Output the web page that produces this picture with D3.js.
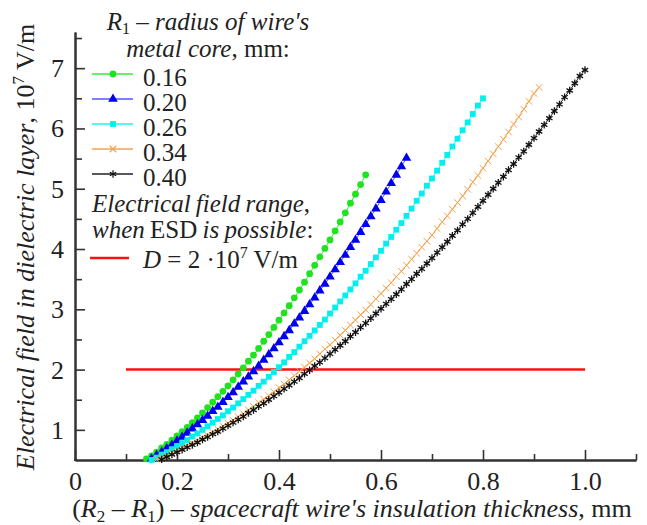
<!DOCTYPE html>
<html>
<head>
<meta charset="utf-8">
<script src="https://cdn.jsdelivr.net/npm/d3@7"></script>
<style>
  body { margin: 0; background: #fff; }
  svg text { font-family: "Liberation Serif", "Tinos", "Times New Roman", "DejaVu Serif", serif; fill: #222; }
</style>
</head>
<body>
<svg width="647" height="525"></svg>
<script>
// R1 values (mm) and the field curves, sampled every 0.01 mm of insulation thickness
var radii = ["0.16", "0.20", "0.26", "0.34", "0.40"];
var xStart = [0.14, 0.15, 0.15, 0.16, 0.17];
var xStep = 0.01;

var field016 = [0.52,0.57,0.63,0.70,0.76,0.83,0.90,0.97,1.04,1.12,1.20,1.28,1.37,1.46,1.55,1.64,1.73,1.83,1.93,2.03,
  2.14,2.24,2.35,2.47,2.58,2.70,2.82,2.94,3.06,3.19,3.32,3.45,3.59,3.73,3.87,4.01,4.15,4.30,4.45,4.60,4.76,4.91,5.07,5.23];
var field020 = [0.52,0.58,0.63,0.69,0.75,0.82,0.88,0.95,1.02,1.09,1.16,1.23,1.31,1.38,1.46,1.54,1.62,1.71,1.80,1.88,
  1.97,2.06,2.16,2.25,2.35,2.45,2.55,2.65,2.76,2.86,2.97,3.08,3.19,3.31,3.42,3.54,3.66,3.78,3.90,4.03,
  4.15,4.28,4.41,4.54,4.67,4.81,4.95,5.09,5.23,5.37,5.51];
var field026 = [0.50,0.54,0.59,0.63,0.68,0.73,0.78,0.83,0.89,0.94,1.00,1.06,1.12,1.18,1.24,1.31,1.37,1.44,1.51,1.58,
  1.65,1.73,1.80,1.88,1.96,2.04,2.12,2.21,2.29,2.38,2.47,2.56,2.65,2.74,2.83,2.93,3.03,3.13,3.23,3.33,
  3.43,3.54,3.64,3.75,3.86,3.97,4.09,4.20,4.32,4.43,4.55,4.67,4.80,4.92,5.05,5.17,5.30,5.43,5.56,5.70,
  5.83,5.97,6.10,6.24,6.38,6.50];
var field034 = [0.51,0.55,0.58,0.62,0.66,0.70,0.74,0.78,0.82,0.87,0.91,0.96,1.01,1.06,1.11,1.16,1.22,1.27,1.33,1.39,
  1.45,1.51,1.57,1.63,1.70,1.76,1.83,1.90,1.97,2.04,2.11,2.18,2.26,2.34,2.41,2.49,2.57,2.65,2.74,2.82,
  2.91,2.99,3.08,3.17,3.26,3.35,3.44,3.54,3.63,3.73,3.83,3.93,4.03,4.13,4.23,4.34,4.45,4.55,4.66,4.77,
  4.88,4.99,5.11,5.22,5.34,5.46,5.58,5.70,5.82,5.94,6.07,6.19,6.32,6.45,6.58,6.68];
var field040 = [0.51,0.55,0.59,0.63,0.67,0.71,0.75,0.79,0.84,0.88,0.93,0.97,1.02,1.07,1.12,1.17,1.22,1.28,1.33,1.39,
  1.44,1.50,1.56,1.62,1.68,1.74,1.80,1.86,1.93,1.99,2.06,2.12,2.19,2.26,2.33,2.40,2.47,2.55,2.62,2.70,
  2.77,2.85,2.93,3.01,3.09,3.17,3.25,3.33,3.42,3.50,3.59,3.67,3.76,3.85,3.94,4.03,4.12,4.22,4.31,4.41,
  4.50,4.60,4.70,4.80,4.90,5.00,5.10,5.20,5.31,5.41,5.52,5.62,5.73,5.84,5.95,6.06,6.17,6.29,6.40,6.52,
  6.63,6.75,6.87,6.97];

var fields = [field016, field020, field026, field034, field040];
var colors = ["#1ee31e", "#0000ee", "#00f0f0", "#f7a24a", "#111111"];
var lineColors = ["#33ee33", "#5555ff", "#22f2f2", "#f7a24a", "#222222"];
var symbols = [d3.symbolCircle, d3.symbolTriangle, d3.symbolSquare, d3.symbolTimes, d3.symbolAsterisk];
var symSizes = [36, 40, 34, 30, 38];

// ESD threshold line D = 2*10^7 V/m
var esdLevel = 2;
var esdRange = [0.1, 1.0];

var xMajorTicks = [0, 0.2, 0.4, 0.6, 0.8, 1.0];
var xMinorTicks = [0.1, 0.3, 0.5, 0.7, 0.9, 1.1];
var yMajorTicks = [1, 2, 3, 4, 5, 6, 7];
var yMinorTicks = [1.5, 2.5, 3.5, 4.5, 5.5, 6.5, 7.5];

var FONT = "'Liberation Serif', Tinos, 'Times New Roman', 'DejaVu Serif', serif";
var FS = 26;   // axis text
var LS = 25;   // legend text
var svg = d3.select("svg");

var x = d3.scaleLinear().domain([0, 1.1]).range([75, 636]);
var y = d3.scaleLinear().domain([0.5, 7.6]).range([460, 32]);

// rich text helper: parts are [text, kind] with kind i / r / sub / sup
function rich(sel, parts, size, subShift) {
  var shift = 0, down = subShift || 5;
  sel.attr("font-family", FONT).attr("font-size", size);
  parts.forEach(function (p) {
    var t = sel.append("tspan").text(p[0]);
    var want = p[1] == "sub" ? down : (p[1] == "sup" ? -10 : 0);
    if (want != shift) { t.attr("dy", want - shift); shift = want; }
    if (p[1] == "i") t.attr("font-style", "italic");
    if (p[1] == "sub" || p[1] == "sup") t.attr("font-size", Math.round(size * 0.65));
  });
}

// ---- axes
var gx = svg.append("g").attr("transform", "translate(0," + y(0.5) + ")");
gx.call(d3.axisBottom(x).tickValues(xMinorTicks).tickSizeInner(-6).tickSizeOuter(0).tickFormat(""));
gx.append("g").call(d3.axisBottom(x).tickValues(xMajorTicks).tickSizeInner(-10).tickSizeOuter(0)
    .tickFormat(function (d) { return d == 1 ? "1.0" : d3.format("")(d); }))
  .selectAll(".tick text").attr("y", 30).attr("dy", 0);

var gy = svg.append("g").attr("transform", "translate(" + x(0) + ",0)");
gy.call(d3.axisLeft(y).tickValues(yMinorTicks).tickSizeInner(-7).tickSizeOuter(0).tickFormat(""));
gy.append("g").call(d3.axisLeft(y).tickValues(yMajorTicks).tickSizeInner(-10).tickSizeOuter(0)
    .tickFormat(d3.format("d")))
  .selectAll(".tick text").attr("x", -11).attr("dy", 8.5);

svg.selectAll("g").attr("font-family", null).attr("font-size", null);
svg.selectAll(".domain").attr("stroke", "#333").attr("stroke-width", 2);
svg.selectAll(".tick line").attr("stroke", "#333").attr("stroke-width", 1.6);
svg.selectAll(".tick text").attr("font-size", FS).attr("fill", "#222").attr("font-family", FONT);
// close the corner of the two axis lines
svg.append("line").attr("x1", x(0) - 1).attr("x2", x(0) + 2).attr("y1", y(0.5)).attr("y2", y(0.5))
  .attr("stroke", "#333").attr("stroke-width", 2);

// ---- threshold line
svg.append("line")
  .attr("x1", x(esdRange[0])).attr("x2", x(esdRange[1]))
  .attr("y1", y(esdLevel)).attr("y2", y(esdLevel))
  .attr("stroke", "#ff1010").attr("stroke-width", 2.5);

// ---- curves
var line = d3.line().x(function (d) { return x(d[0]); }).y(function (d) { return y(d[1]); });

fields.forEach(function (vals, k) {
  var pts = vals.map(function (v, i) { return [xStart[k] + i * xStep, v]; });
  var g = svg.append("g");
  g.append("path").datum(pts).attr("d", line)
    .attr("fill", "none").attr("stroke", lineColors[k]).attr("stroke-width", 1);
  var sym = d3.symbol().type(symbols[k]).size(symSizes[k]);
  g.selectAll("path.m").data(pts).enter().append("path").attr("class", "m")
    .attr("transform", function (d) { return "translate(" + x(d[0]) + "," + y(d[1]) + ")"; })
    .attr("d", sym)
    .attr("fill", k < 3 ? colors[k] : "none")
    .attr("stroke", k < 3 ? "none" : colors[k])
    .attr("stroke-width", k == 3 ? 1 : 1.3);
});

// ---- legend
var legend = svg.append("g");
rich(legend.append("text").attr("x", 208).attr("y", 30).attr("text-anchor", "middle"),
  [["R", "i"], ["1", "sub"], [" – ", "r"], ["radius of wire's", "i"]], LS, 4);
rich(legend.append("text").attr("x", 208).attr("y", 57).attr("text-anchor", "middle"),
  [["metal core", "i"], [", mm:", "r"]], LS);

radii.forEach(function (r, k) {
  var ly = 74 + k * 25;
  legend.append("line").attr("x1", 92).attr("x2", 133).attr("y1", ly).attr("y2", ly)
    .attr("stroke", lineColors[k]).attr("stroke-width", 1.5);
  legend.append("path").attr("transform", "translate(113," + ly + ")")
    .attr("d", d3.symbol().type(symbols[k]).size(symSizes[k]))
    .attr("fill", k < 3 ? colors[k] : "none")
    .attr("stroke", k < 3 ? "none" : colors[k]).attr("stroke-width", 1.2);
  rich(legend.append("text").attr("x", 143).attr("y", ly + 11.5), [[r, "r"]], LS);
});

rich(legend.append("text").attr("x", 92).attr("y", 212).attr("word-spacing", -1),
  [["Electrical field range", "i"], [",", "r"]], LS);
rich(legend.append("text").attr("x", 92).attr("y", 238).attr("word-spacing", -1),
  [["when ", "i"], ["ESD ", "r"], ["is possible", "i"], [":", "r"]], LS);

legend.append("line").attr("x1", 90).attr("x2", 129).attr("y1", 258).attr("y2", 258)
  .attr("stroke", "#ff1010").attr("stroke-width", 2.5);
rich(legend.append("text").attr("x", 143).attr("y", 268),
  [["D", "i"], [" = 2 ·10", "r"], ["7", "sup"], [" V/m", "r"]], LS);

// ---- axis titles
rich(svg.append("text").attr("x", 352).attr("y", 517).attr("text-anchor", "middle"),
  [["(", "r"], ["R", "i"], ["2", "sub"], [" – ", "r"], ["R", "i"], ["1", "sub"], [") – ", "r"],
   ["spacecraft wire's insulation thickness", "i"], [", mm", "r"]], FS);

rich(svg.append("text").attr("transform", "translate(34,247) rotate(-90)").attr("text-anchor", "middle"),
  [["Electrical field in dielectric layer", "i"], [", 10", "r"], ["7", "sup"], [" V/m", "r"]], FS);
</script>
</body>
</html>
